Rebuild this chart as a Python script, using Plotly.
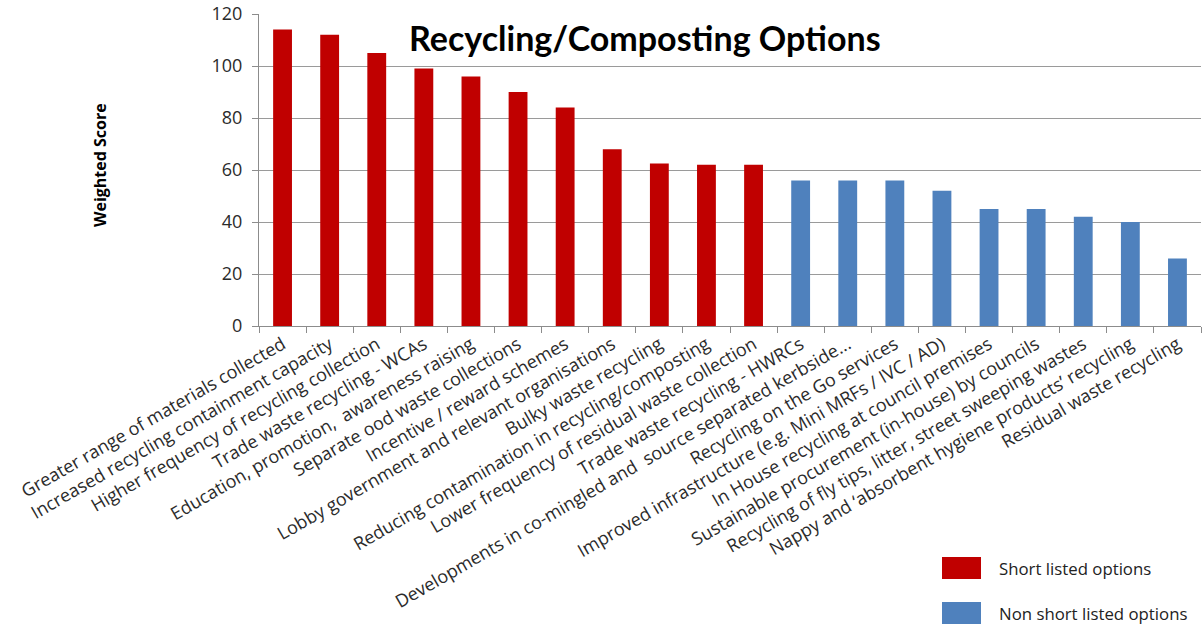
import plotly.graph_objects as go

categories = [
    "Greater range of materials collected",
    "Increased recycling containment capacity",
    "Higher frequency of recycling collection",
    "Trade waste recycling - WCAs",
    "Education, promotion,  awareness raising",
    "Separate ood waste collections",
    "Incentive / reward schemes",
    "Lobby government and relevant organisations",
    "Bulky waste recycling",
    "Reducing contamination in recycling/composting",
    "Lower frequency of residual waste collection",
    "Trade waste recycling - HWRCs",
    "Developments in co-mingled and  source separated kerbside...",
    "Recycling on the Go services",
    "Improved infrastructure (e.g. Mini MRFs / IVC / AD)",
    "In House recycling at council premises",
    "Sustainable procurement (in-house) by councils",
    "Recycling of fly tips, litter, street sweeping wastes",
    "Nappy and \u2018absorbent hygiene products\u2019 recycling",
    "Residual waste recycling",
]
scores = [114, 112, 105, 99, 96, 90, 84, 68, 62.5, 62, 62, 56, 56, 56, 52, 45, 45, 42, 40, 26]
short_listed = [True] * 11 + [False] * 9

legend_labels = ["Short listed options", "Non short listed options"]
y_ticks = [0, 20, 40, 60, 80, 100, 120]

RED = "#C00000"
BLUE = "#4F81BD"
colors = [RED if s else BLUE for s in short_listed]

FONT = "'Open Sans', Lato, sans-serif"
TITLE_FONT = "Lato, 'Open Sans', sans-serif"

L, R, T, B = 259, 1201, 14, 326
PW, PH = R - L, B - T

def px(x):
    return (x - L) / PW

def py(y):
    return (B - y) / PH

fig = go.Figure()
fig.add_trace(go.Bar(
    x=categories, y=scores,
    marker=dict(color=colors, line=dict(width=0)),
    showlegend=False,
))

fig.update_layout(
    width=1203, height=626,
    margin=dict(l=L, r=1203 - R, t=T, b=626 - B),
    paper_bgcolor="white", plot_bgcolor="white",
    bargap=0.6,
    font=dict(family=FONT, color="#333333"),
    xaxis=dict(
        type="category",
        tickangle=-30,
        tickfont=dict(size=18, family=FONT, color="#2b2b2b"),
        showline=True, linecolor="#8c8c8c", linewidth=1,
        ticks="outside", ticklen=6, tickcolor="#8c8c8c",
        tickson="boundaries",
        showgrid=False,
        automargin=False,
    ),
    yaxis=dict(
        range=[0, 120],
        tickvals=y_ticks,
        tickfont=dict(size=18, family=FONT, color="#2b2b2b"),
        showline=True, linecolor="#8c8c8c", linewidth=1,
        ticks="outside", ticklen=6, tickcolor="#8c8c8c",
        ticklabelstandoff=6,
        showgrid=True, gridcolor="#9a9a9a", gridwidth=1,
        zeroline=False,
        automargin=False,
    ),
    annotations=[
        dict(text="<b>Recycling/Composting Options</b>", xref="paper", yref="paper",
             x=px(645), y=py(38), xanchor="center", yanchor="middle",
             showarrow=False, font=dict(size=34, family=TITLE_FONT, color="black")),
        dict(text="<b>Weighted Score</b>", xref="paper", yref="paper",
             x=px(100), y=py(165), xanchor="center", yanchor="middle",
             textangle=-90, showarrow=False, font=dict(size=16, family=FONT, color="black")),
    ],
)

# manual legend (swatches + labels)
legend_items = [(legend_labels[0], RED, 568), (legend_labels[1], BLUE, 613)]
for label, col, yc in legend_items:
    fig.add_shape(type="rect", xref="paper", yref="paper",
                  x0=px(942), x1=px(981),
                  y0=py(yc + 11), y1=py(yc - 11),
                  fillcolor=col, line=dict(width=0))
    fig.add_annotation(text=label, xref="paper", yref="paper",
                       x=px(997), y=py(yc),
                       xanchor="left", yanchor="middle", showarrow=False,
                       font=dict(size=16.8, family=FONT, color="#222222"))

fig.write_html("out.html")
